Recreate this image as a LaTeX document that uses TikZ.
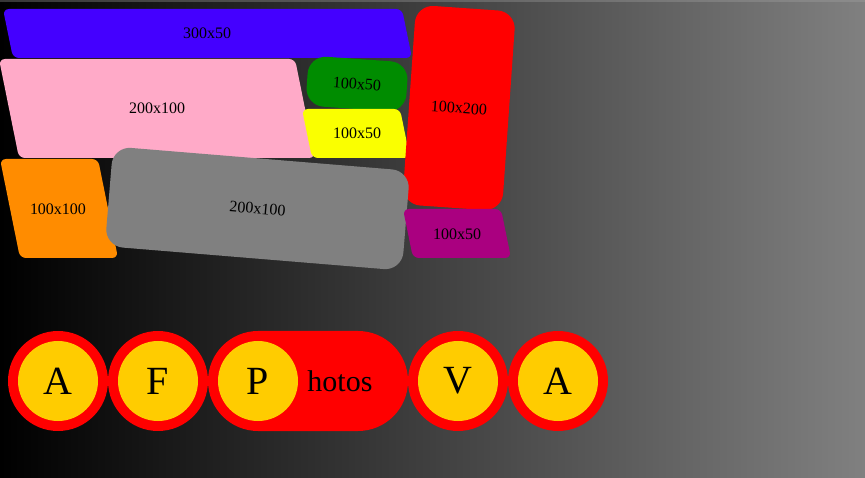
\documentclass[tikz,border=0pt]{standalone}
\usepackage{fontspec}
\setmainfont{Liberation Serif}
\usepackage{xcolor}
\usepackage{tikz}

\definecolor{tileblue}{RGB}{68,0,255}
\definecolor{tilepink}{RGB}{255,170,200}
\definecolor{tilegreen}{RGB}{0,140,0}
\definecolor{tileyellow}{RGB}{250,255,0}
\definecolor{tileorange}{RGB}{255,140,0}
\definecolor{tilegray}{RGB}{128,128,128}
\definecolor{tilepurple}{RGB}{170,0,128}
\definecolor{navyellow}{RGB}{255,204,0}
\definecolor{edgeleft}{RGB}{55,55,55}
\definecolor{edgeright}{RGB}{140,140,140}

\begin{document}
\begin{tikzpicture}[x=1pt, y=-1pt,
    tile/.style = {rounded corners=6pt},
    box/.style = {rounded corners=18pt, inner sep=0pt, font=\fontsize{16}{16}\selectfont},
    lbl/.style = {inner sep=0pt, font=\fontsize{16}{16}\selectfont},
    ring/.style = {circle, fill=red, minimum size=100pt, inner sep=0pt},
    dot/.style = {circle, fill=navyellow, minimum size=80pt, inner sep=0pt, font=\fontsize{40}{40}\selectfont},
    pill/.style = {fill=red, rounded corners=50pt, minimum width=200pt, minimum height=100pt, inner sep=0pt}]
        \useasboundingbox (0,0) rectangle (865,478);
        \shade[left color=black, right color=tilegray] (0,0) rectangle (865,478);
        \shade[left color=edgeleft, right color=edgeright] (0,0) rectangle (865,1.2);
        % masonry tiles
        \fill[tile, tileblue] (3,9) -- (402,9) -- (412,58) -- (13,58) -- cycle;
        \node[lbl] (t1) at (207,33) {300x50};
        \fill[tile, tilepink] (-1,59) -- (295,59) -- (315,158) -- (19,158) -- cycle;
        \node[lbl] (t2) at (157,108) {200x100};
        \node[box, fill=tilegreen, minimum width=100pt, minimum height=50pt, rotate=-4] (t3) at (357,84) {100x50};
        \fill[tile, tileyellow] (302,109) -- (400,109) -- (410,158) -- (312,158) -- cycle;
        \node[lbl] (t4) at (357,133) {100x50};
        \node[box, fill=red, minimum width=100pt, minimum height=200pt, rotate=-4] (t5) at (459,108) {100x200};
        \fill[tile, tileorange] (0,159) -- (98,159) -- (118,258) -- (20,258) -- cycle;
        \node[lbl] (t6) at (58,209) {100x100};
        \node[box, fill=tilegray, minimum width=298pt, minimum height=100pt, rotate=-4.7] (t7) at (257.5,208.5) {200x100};
        \fill[tile, tilepurple] (403,209) -- (501,209) -- (511,258) -- (413,258) -- cycle;
        \node[lbl] (t8) at (457,234) {100x50};
        % nav buttons
        \node[ring] (r1) at (58,381) {};
        \node[dot] (d1) at (r1) {A};
        \node[ring] (r2) at (158,381) {};
        \node[dot] (d2) at (r2) {F};
        \node[pill] (r3) at (308,381) {};
        \node[dot] (d3) at (258,381) {P};
        \node[inner sep=0pt, anchor=base, font=\fontsize{30}{30}\selectfont] (w3) at (340,391) {hotos};
        \node[ring] (r4) at (458,381) {};
        \node[dot] (d4) at (r4) {V};
        \node[ring] (r5) at (558,381) {};
        \node[dot] (d5) at (r5) {A};
    \end{tikzpicture}
\end{document}
